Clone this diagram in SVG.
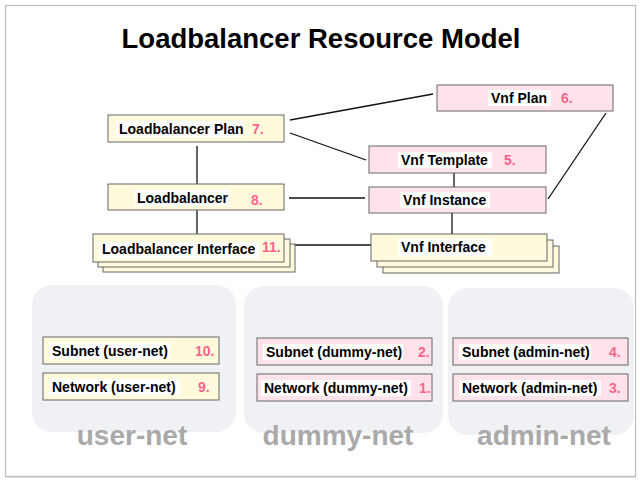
<svg xmlns="http://www.w3.org/2000/svg" width="640" height="480" viewBox="0 0 640 480">
<style>
text{font-family:"Liberation Sans",Arial,sans-serif;font-weight:bold}
.y{fill:#fffadc;stroke:#666;stroke-width:1}
.p{fill:#ffe2ea;stroke:#666;stroke-width:1}
.hl{fill:#fff}
.t{font-size:14px;fill:#000}
.s{font-size:14px;fill:#000}
.n{font-size:14px;fill:#ff648c}
.g{fill:#f0f1f5}
.gl{font-size:28px;fill:#a9a9a9;text-anchor:middle}
.c{stroke:#111;stroke-width:1.3;fill:none}
</style>
<rect x="0" y="0" width="640" height="480" fill="#fff"/>
<rect x="5.5" y="5.5" width="630" height="471" fill="#fff" stroke="#bdbdbd" stroke-width="1.2"/>
<line x1="6" y1="477.5" x2="636" y2="477.5" stroke="#dcdcdc" stroke-width="1"/>
<text x="321" y="48" font-size="27.5" text-anchor="middle" fill="#000">Loadbalancer Resource Model</text>

<g id="groups">
<rect class="g" x="32" y="285" width="204" height="147" rx="20"/>
<rect class="g" x="244" y="286" width="199" height="147" rx="20"/>
<rect class="g" x="448" y="288" width="186" height="147" rx="20"/>
</g>

<g id="connectors">
<line class="c" x1="197" y1="146" x2="197" y2="184"/>
<line class="c" x1="197" y1="210" x2="197" y2="234"/>
<line class="c" x1="290" y1="120" x2="433" y2="94"/>
<line class="c" x1="290" y1="133" x2="366" y2="160"/>
<line class="c" x1="289" y1="198" x2="365" y2="198"/>
<line class="c" x1="289" y1="245" x2="371" y2="245"/>
<line class="c" x1="454" y1="173" x2="454" y2="187"/>
<line class="c" x1="452" y1="213" x2="452" y2="234"/>
<line class="c" x1="606" y1="113" x2="548" y2="199"/>
</g>

<g id="lb-plan">
<rect class="y" x="108" y="115" width="176" height="27"/>
<rect class="hl" x="116" y="121" width="127" height="16"/>
<text class="t" x="119" y="134">Loadbalancer Plan</text>
<text class="n" x="252" y="134">7.</text>
</g>

<g id="lb">
<rect class="y" x="108" y="184" width="176" height="26"/>
<rect class="hl" x="134" y="190" width="95" height="16"/>
<text class="t" x="137" y="203">Loadbalancer</text>
<text class="n" x="251" y="205">8.</text>
</g>

<g id="lb-interface">
<rect class="y" x="103" y="244" width="192" height="28"/>
<rect class="y" x="98" y="239" width="192" height="28"/>
<rect class="y" x="93" y="234" width="191" height="28"/>
<rect class="hl" x="99" y="242" width="160" height="17"/>
<text class="t" x="102" y="254">Loadbalancer Interface</text>
<text class="n" x="262" y="252">11.</text>
</g>

<g id="vnf-plan">
<rect class="p" x="437" y="85" width="176" height="26"/>
<rect class="hl" x="488" y="90" width="63" height="16"/>
<text class="t" x="491" y="103">Vnf Plan</text>
<text class="n" x="561" y="103">6.</text>
</g>

<g id="vnf-template">
<rect class="p" x="369" y="146" width="177" height="27"/>
<rect class="hl" x="398" y="152" width="94" height="16"/>
<text class="t" x="401" y="165">Vnf Template</text>
<text class="n" x="504" y="165">5.</text>
</g>

<g id="vnf-instance">
<rect class="p" x="369" y="187" width="177" height="26"/>
<rect class="hl" x="400" y="192" width="90" height="16"/>
<text class="t" x="403" y="205">Vnf Instance</text>
</g>

<g id="vnf-interface">
<rect class="y" x="383" y="246" width="176" height="27"/>
<rect class="y" x="377" y="240" width="176" height="27"/>
<rect class="y" x="371" y="234" width="176" height="27"/>
<rect class="hl" x="398" y="239" width="94" height="17"/>
<text class="t" x="401" y="252">Vnf Interface</text>
</g>

<g id="subnet-user">
<rect class="y" x="43" y="337" width="176" height="27"/>
<rect class="hl" x="49" y="343" width="121" height="16"/>
<text class="s" x="52" y="356">Subnet (user-net)</text>
<text class="n" x="195" y="356">10.</text>
</g>
<g id="network-user">
<rect class="y" x="43" y="373" width="176" height="27"/>
<rect class="hl" x="49" y="379" width="131" height="16"/>
<text class="s" x="52" y="392">Network (user-net)</text>
<text class="n" x="198" y="392">9.</text>
</g>

<g id="subnet-dummy">
<rect class="p" x="257" y="338" width="175" height="27"/>
<rect class="hl" x="263" y="344" width="140" height="16"/>
<text class="s" x="266" y="357">Subnet (dummy-net)</text>
<text class="n" x="418" y="357">2.</text>
</g>
<g id="network-dummy">
<rect class="p" x="257" y="374" width="175" height="27"/>
<rect class="hl" x="261" y="380" width="150" height="16"/>
<text class="s" x="264" y="393">Network (dummy-net)</text>
<text class="n" x="419" y="393">1.</text>
</g>

<g id="subnet-admin">
<rect class="p" x="453" y="338" width="175" height="27"/>
<rect class="hl" x="459" y="344" width="132" height="16"/>
<text class="s" x="462" y="357">Subnet (admin-net)</text>
<text class="n" x="609" y="357">4.</text>
</g>
<g id="network-admin">
<rect class="p" x="453" y="374" width="175" height="27"/>
<rect class="hl" x="459" y="380" width="142" height="16"/>
<text class="s" x="462" y="393">Network (admin-net)</text>
<text class="n" x="609" y="393">3.</text>
</g>

<g id="group-labels">
<text class="gl" x="132" y="445">user-net</text>
<text class="gl" x="338" y="445">dummy-net</text>
<text class="gl" x="544" y="445">admin-net</text>
</g>
</svg>
